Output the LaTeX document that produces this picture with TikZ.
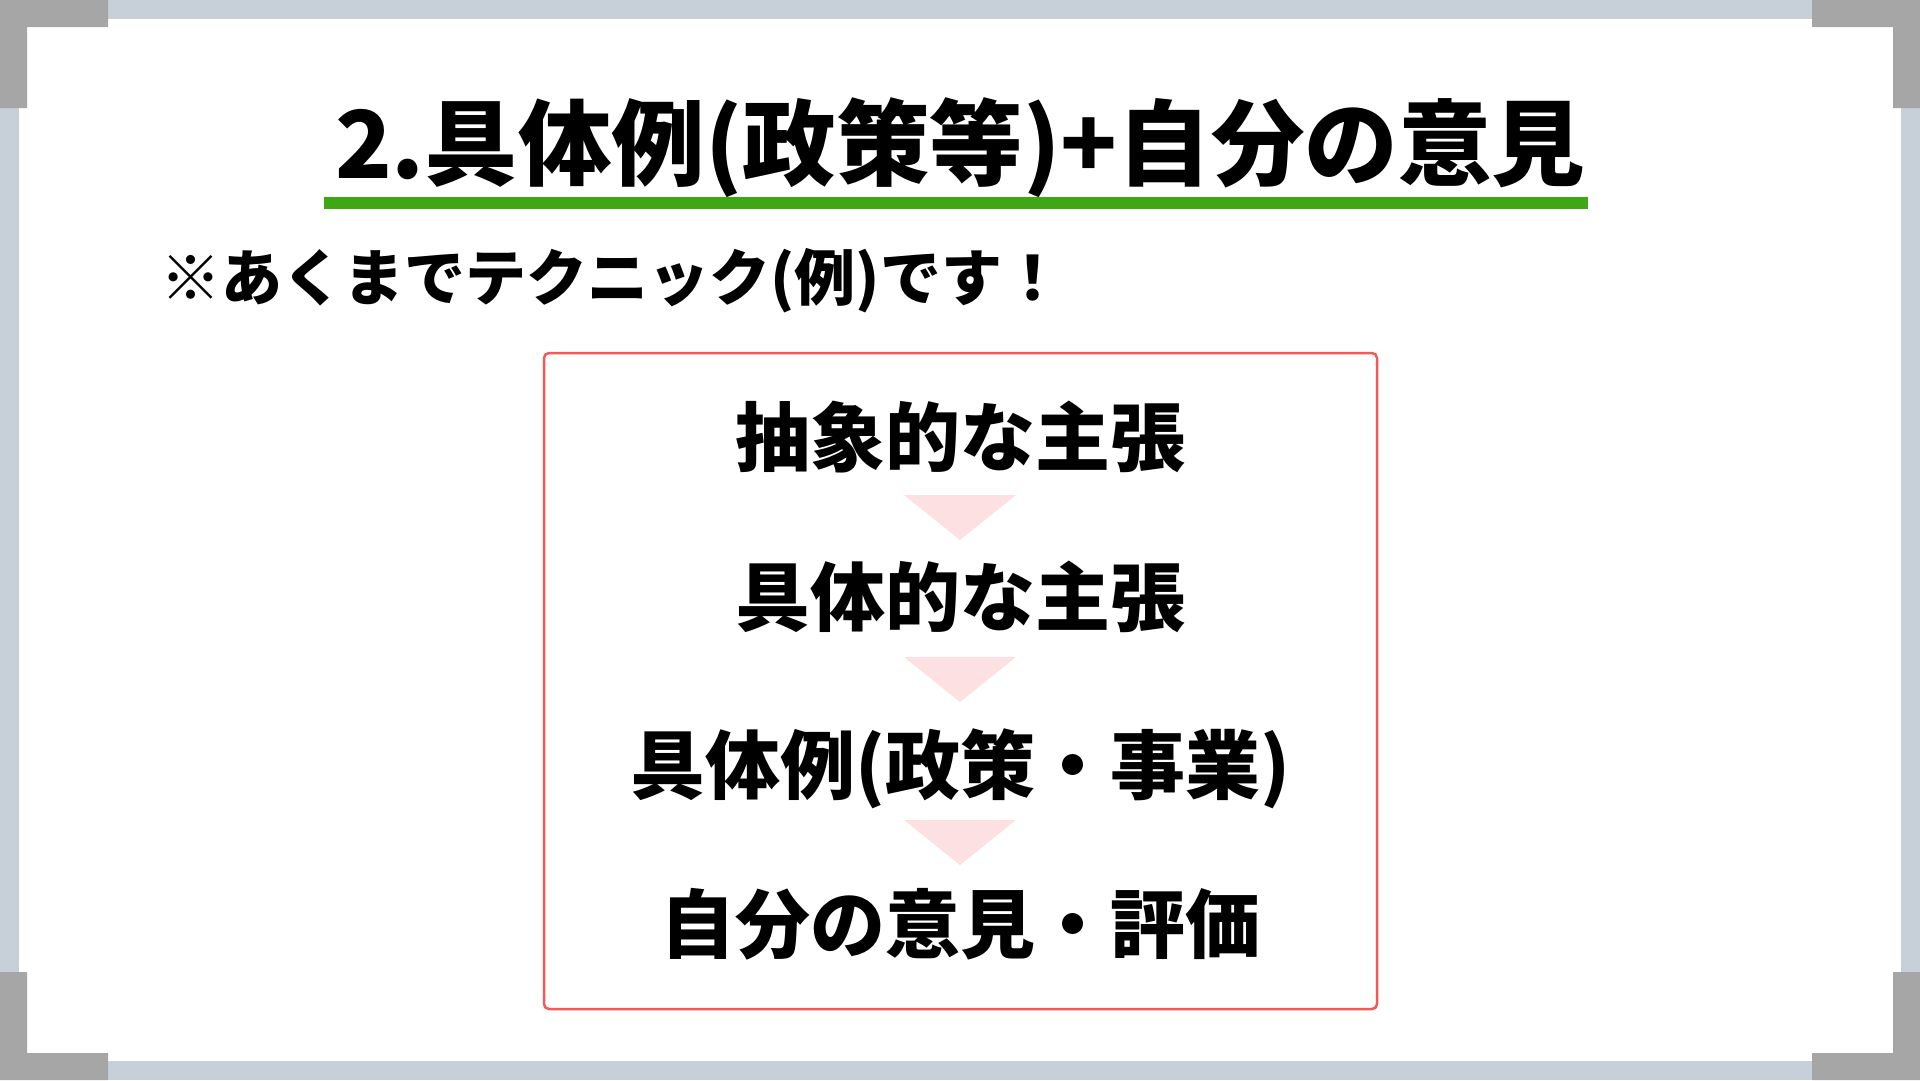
\documentclass[tikz,border=0pt]{standalone}
\usepackage{fontspec}
\newfontfamily\jpheavy{Noto Sans CJK JP Black}
\definecolor{framegray}{HTML}{C7CFD9}
\definecolor{cornergray}{HTML}{A6A6A6}
\definecolor{titlegreen}{HTML}{3FA614}
\definecolor{boxred}{HTML}{F25A5A}
\definecolor{trianglepink}{HTML}{FDE0E1}

\begin{document}
\begin{tikzpicture}[x=1pt, y=-1pt,
	heading/.style={font=\jpheavy\fontsize{93.5}{100}\selectfont, anchor=base, inner sep=0pt},
	remark/.style={font=\jpheavy\fontsize{61}{66}\selectfont, anchor=base west, inner sep=0pt},
	stepnode/.style={font=\jpheavy\fontsize{75}{80}\selectfont, anchor=base, inner sep=0pt}]
	\useasboundingbox (0,0) rectangle (1920,1080);
	\coordinate (ul-left) at (324,203);
	\coordinate (ul-right) at (1588,203);
	\coordinate (arrow1) at (960,495);
	\coordinate (arrow2) at (960,657);
	\coordinate (arrow3) at (960,820);

	% Draw the frame and its corners
	\fill[framegray] (0,0) rectangle (1920,1080);
	\fill[white] (19,19) rectangle (1901,1061);
	\foreach \sx/\sy in {1/1, -1/1, 1/-1, -1/-1}
		\fill[cornergray, shift={(960,540)}, xscale=\sx, yscale=\sy] (-960,-540) -- ++(108,0) -- ++(0,27) -- ++(-81,0) -- ++(0,81) -- ++(-27,0) -- cycle;

	% Title and note
	\node[heading] (title) at (960,178) {2.具体例(政策等)+自分の意見};
	\draw[titlegreen, line width=12pt] (ul-left) -- (ul-right);
	\node[remark] (note) at (160,300) {※あくまでテクニック(例)です！};

	% Draw the steps inside the box
	\draw[boxred, line width=2.5pt, rounded corners=5pt] (544,353) rectangle (1377,1009);
	\node[stepnode] (abstract) at (960,465) {抽象的な主張};
	\fill[trianglepink] (arrow1) ++(-56,0) -- ++(112,0) -- ++(-56,45) -- cycle;
	\node[stepnode] (concrete) at (960,625) {具体的な主張};
	\fill[trianglepink] (arrow2) ++(-56,0) -- ++(112,0) -- ++(-56,45) -- cycle;
	\node[stepnode] (example) at (960,793) {具体例(政策・事業)};
	\fill[trianglepink] (arrow3) ++(-56,0) -- ++(112,0) -- ++(-56,45) -- cycle;
	\node[stepnode] (opinion) at (960,952) {自分の意見・評価};
\end{tikzpicture}
\end{document}
